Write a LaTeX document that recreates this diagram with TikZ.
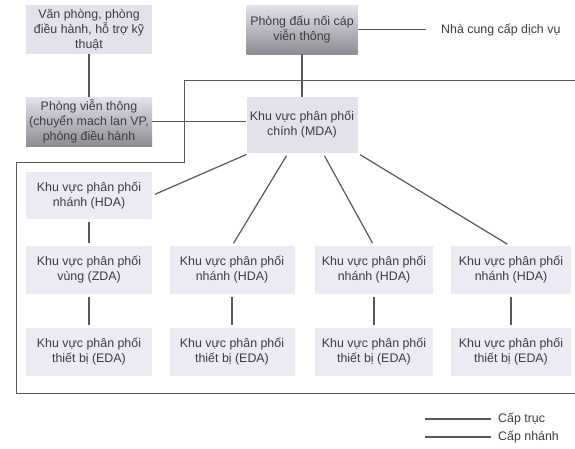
\documentclass[tikz,border=0pt]{standalone}
\usepackage{fontspec}
\setmainfont{Liberation Sans}
\usetikzlibrary{positioning,calc}
\definecolor{boxfill}{HTML}{ECEAF2}
\definecolor{boxdark}{HTML}{E3E1EA}
\definecolor{shadetop}{HTML}{E4E2EA}
\definecolor{shadebot}{HTML}{8E8D92}
\definecolor{inkgray}{HTML}{3C3C40}
\definecolor{wiregray}{HTML}{58585C}
\tikzset{
  area/.style={fill=boxfill, align=center, inner sep=0pt,
    font=\fontsize{12.4}{15}\selectfont, text=inkgray},
  shaded area/.style={area, top color=shadetop, bottom color=shadebot},
  wire/.style={draw=wiregray, line width=1.2pt},
  gap/.style={shorten <=3pt, shorten >=3pt}
}
\begin{document}
\begin{tikzpicture}[x=1pt, y=-1pt]
  \useasboundingbox (0,0) rectangle (575,448);
  \fill[white] (0,0) rectangle (575,448);

  % top row
  \node[area, fill=boxdark, minimum width=126, minimum height=49] (office) at (89,29.5)
    {Văn phòng, phòng\\điều hành, hỗ trợ kỹ\\thuật};
  \node[shaded area, minimum width=111, minimum height=49] (entrance) at (302,29.5)
    {Phòng đấu nối cáp\\viễn thông};
  \node[area, fill=none, anchor=west] (provider) at (441,30) {Nhà cung cấp dịch vụ};

  % second row
  \node[shaded area, minimum width=126, minimum height=49] (telroom) at (89,121.5)
    {Phòng viễn thông\\(chuyển mach lan VP,\\phòng điều hành};
  \node[area, fill=boxdark, minimum width=111, minimum height=56] (mda) at (302,125)
    {Khu vực phân phối\\chính (MDA)};

  % distribution areas
  \node[area, minimum width=126, minimum height=47] (hdaA) at (89,195.5)
    {Khu vực phân phối\\nhánh (HDA)};
  \node[area, minimum width=126, minimum height=48] (zda) at (89,270)
    {Khu vực phân phối\\vùng (ZDA)};
  \node[area, minimum width=126, minimum height=48] (edaA) at (89,352)
    {Khu vực phân phối\\thiết bị (EDA)};
  \node[area, minimum width=125, minimum height=48] (hdaB) at (232,270)
    {Khu vực phân phối\\nhánh (HDA)};
  \node[area, minimum width=125, minimum height=48] (edaB) at (232,352)
    {Khu vực phân phối\\thiết bị (EDA)};
  \node[area, minimum width=118, minimum height=48] (hdaC) at (374,270)
    {Khu vực phân phối\\nhánh (HDA)};
  \node[area, minimum width=118, minimum height=48] (edaC) at (374,352)
    {Khu vực phân phối\\thiết bị (EDA)};
  \node[area, minimum width=120, minimum height=48] (hdaD) at (511,270)
    {Khu vực phân phối\\nhánh (HDA)};
  \node[area, minimum width=120, minimum height=48] (edaD) at (511,352)
    {Khu vực phân phối\\thiết bị (EDA)};

  % building outline
  \draw[wiregray, line width=0.8pt]
    (575,80) -- (184,80) -- (184,162) -- (16,162) -- (16,393) -- (575,393);

  % links
  \draw[wire] (office) -- (telroom);
  \draw[wire] (entrance) -- (mda);
  \draw[wire, shorten >=15pt] (entrance.east) -- (entrance.east -| provider.west);
  \draw[wire] (telroom.east) -- (telroom.east -| mda.west);
  \draw[wire, gap] ([xshift=3pt]mda.south west) -- (hdaA.east);
  \draw[wire, gap] ([xshift=-14pt]mda.south) -- (hdaB.north);
  \draw[wire, gap] ([xshift=21pt]mda.south) -- (hdaC.north);
  \draw[wire, gap] (mda.south east) -- ([xshift=-1pt]hdaD.north);
  \draw[wire, gap] (hdaA) -- (zda);
  \draw[wire, gap] (zda) -- (edaA);
  \draw[wire, gap] (hdaB) -- (edaB);
  \draw[wire, gap] (hdaC) -- (edaC);
  \draw[wire, gap] (hdaD) -- (edaD);

  % legend
  \node[area, fill=none, anchor=west] (trunk) at (498,419) {Cấp trục};
  \node[area, fill=none, anchor=west] (branch) at (498,437) {Cấp nhánh};
  \coordinate (trunkend) at (425,419);
  \coordinate (branchend) at (425,437);
  \draw[wire, shorten >=7pt] (trunkend) -- (trunk.west);
  \draw[wire, shorten >=7pt] (branchend) -- (branch.west);
\end{tikzpicture}
\end{document}
